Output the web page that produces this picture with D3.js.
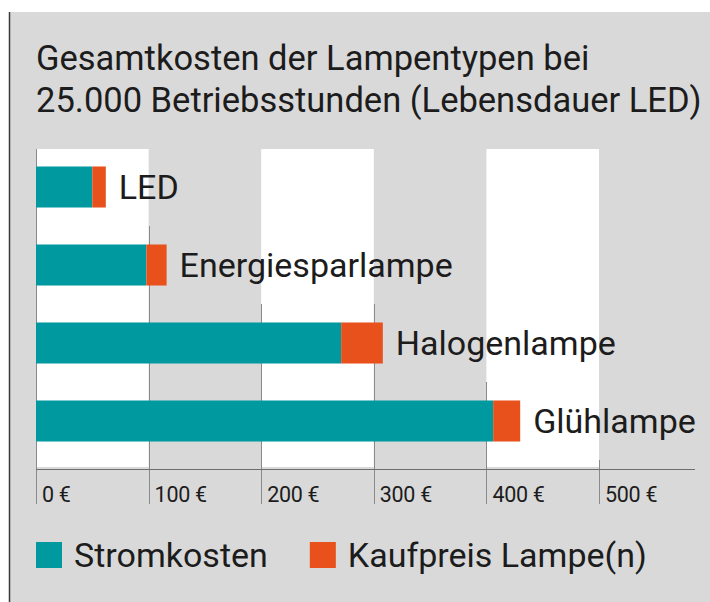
<!DOCTYPE html>
<html>
<head>
<meta charset="utf-8">
<script src="https://cdn.jsdelivr.net/npm/d3@7"></script>
<style>
  html, body { margin: 0; padding: 0; background: #ffffff; }
  svg { display: block; font-family: Roboto, "DejaVu Sans", sans-serif; }
</style>
</head>
<body>
<div id="grafik"></div>
<script>
// Daten
const lampen = ["LED", "Energiesparlampe", "Halogenlampe", "Glühlampe"];
const stromkosten = [50, 98, 271, 406];
const kaufpreis = [12, 18, 37, 24];
const achsenWerte = [0, 100, 200, 300, 400, 500];
const achsenTexte = ["0 €", "100 €", "200 €", "300 €", "400 €", "500 €"];
const titelZeilen = ["Gesamtkosten der Lampentypen bei", "25.000 Betriebsstunden (Lebensdauer LED)"];
const legendeTexte = ["Stromkosten", "Kaufpreis Lampe(n)"];

const breite = 710, hoehe = 602;
const links = 36;
const feldOben = 149, achseY = 469;
const farbeStrom = "#00999f",
    farbeKauf = "#e8501c",
    farbeGrau = "#d9d9d9",
    farbeText = "#1c1c1c",
    farbeLinie = "#8a8a8a";

const $svg = d3.select("#grafik")
    .append("svg")
    .attr("width", breite)
    .attr("height", hoehe);

// Hintergrund
$svg.append("rect")
    .attr("x", 9).attr("y", 12)
    .attr("width", breite - 9).attr("height", hoehe - 12)
    .attr("fill", farbeGrau);
$svg.append("line")
    .attr("x1", 9.5).attr("x2", 9.5)
    .attr("y1", 12).attr("y2", hoehe)
    .attr("stroke", "#3a3a3a")
    .attr("stroke-width", 1.5);

const x = d3.scaleLinear()
    .domain([0, 500])
    .range([links, links + 563]);

const y = d3.scaleBand()
    .domain(lampen)
    .range([148, 460])
    .paddingInner(0.474)
    .paddingOuter(0.237);

// Titel
$svg.append("g")
    .selectAll("text")
    .data(titelZeilen)
    .join("text")
    .attr("x", links)
    .attr("y", (d, i) => 70 + i * 42)
    .attr("fill", farbeText)
    .attr("font-size", 34.5)
    .text(d => d);

// weisse Streifen
const streifen = d3.range(0, achsenWerte.length - 1, 2);
$svg.append("g")
    .selectAll("rect")
    .data(streifen)
    .join("rect")
    .attr("x", i => x(achsenWerte[i]))
    .attr("width", i => x(achsenWerte[i + 1]) - x(achsenWerte[i]))
    .attr("y", feldOben)
    .attr("height", achseY - 2 - feldOben)
    .attr("fill", "#ffffff");

const gitter = $svg.append("g");
const balken = $svg.append("g");
const beschriftung = $svg.append("g");

const summe = lampen.map((d, i) => stromkosten[i] + kaufpreis[i]);

balken.selectAll("rect.strom")
    .data(lampen)
    .join("rect")
    .attr("class", "strom")
    .attr("x", x(0))
    .attr("y", d => y(d))
    .attr("width", (d, i) => x(stromkosten[i]) - x(0))
    .attr("height", y.bandwidth())
    .attr("fill", farbeStrom);

balken.selectAll("rect.kauf")
    .data(lampen)
    .join("rect")
    .attr("class", "kauf")
    .attr("x", (d, i) => x(stromkosten[i]))
    .attr("y", d => y(d))
    .attr("width", (d, i) => x(summe[i]) - x(stromkosten[i]))
    .attr("height", y.bandwidth())
    .attr("fill", farbeKauf);

const etiketten = beschriftung.selectAll("text")
    .data(lampen)
    .join("text")
    .attr("x", (d, i) => x(summe[i]) + 13)
    .attr("y", d => y(d) + y.bandwidth() / 2)
    .attr("dy", "0.36em")
    .attr("fill", farbeText)
    .attr("font-size", 34)
    .text(d => d);

// Gitterlinien beginnen unter der letzten Beschriftung, die sie kreuzen
const etikettBereich = etiketten.nodes().map(n => {
    const x0 = +n.getAttribute("x");
    return [x0, x0 + n.getComputedTextLength()];
});
const linienStart = wert => {
    const px = x(wert);
    if (wert === 0) return feldOben;
    let start = feldOben;
    lampen.forEach((d, i) => {
        if (px >= etikettBereich[i][0] - 4 && px <= etikettBereich[i][1] + 4) {
            start = y(d) + y.bandwidth() + (y.step() - y.bandwidth()) / 2;
        }
    });
    return start;
};

gitter.selectAll("line")
    .data(achsenWerte)
    .join("line")
    .attr("x1", d => Math.round(x(d)) + 0.5)
    .attr("x2", d => Math.round(x(d)) + 0.5)
    .attr("y1", d => linienStart(d))
    .attr("y2", achseY + 35)
    .attr("stroke", farbeLinie)
    .attr("stroke-width", 1);

$svg.append("line")
    .attr("x1", x(0))
    .attr("x2", 695)
    .attr("y1", achseY + 0.5)
    .attr("y2", achseY + 0.5)
    .attr("stroke", "#6e6e6e")
    .attr("stroke-width", 1.2);

$svg.append("g")
    .selectAll("text")
    .data(achsenWerte)
    .join("text")
    .attr("x", d => x(d) + 6)
    .attr("y", achseY + 33)
    .attr("fill", farbeText)
    .attr("font-size", 21.5)
    .attr("letter-spacing", -0.3)
    .text((d, i) => achsenTexte[i]);

// Legende
const legende = $svg.append("g");
const legendeFarben = [farbeStrom, farbeKauf];
let lx = links;
legendeTexte.forEach((t, i) => {
    legende.append("rect")
        .attr("x", lx)
        .attr("y", 542)
        .attr("width", 26)
        .attr("height", 26)
        .attr("fill", legendeFarben[i]);
    const txt = legende.append("text")
        .attr("x", lx + 38)
        .attr("y", 567)
        .attr("fill", farbeText)
        .attr("font-size", 34)
        .text(t);
    lx = lx + 38 + txt.node().getComputedTextLength() + 42;
});
</script>
</body>
</html>
